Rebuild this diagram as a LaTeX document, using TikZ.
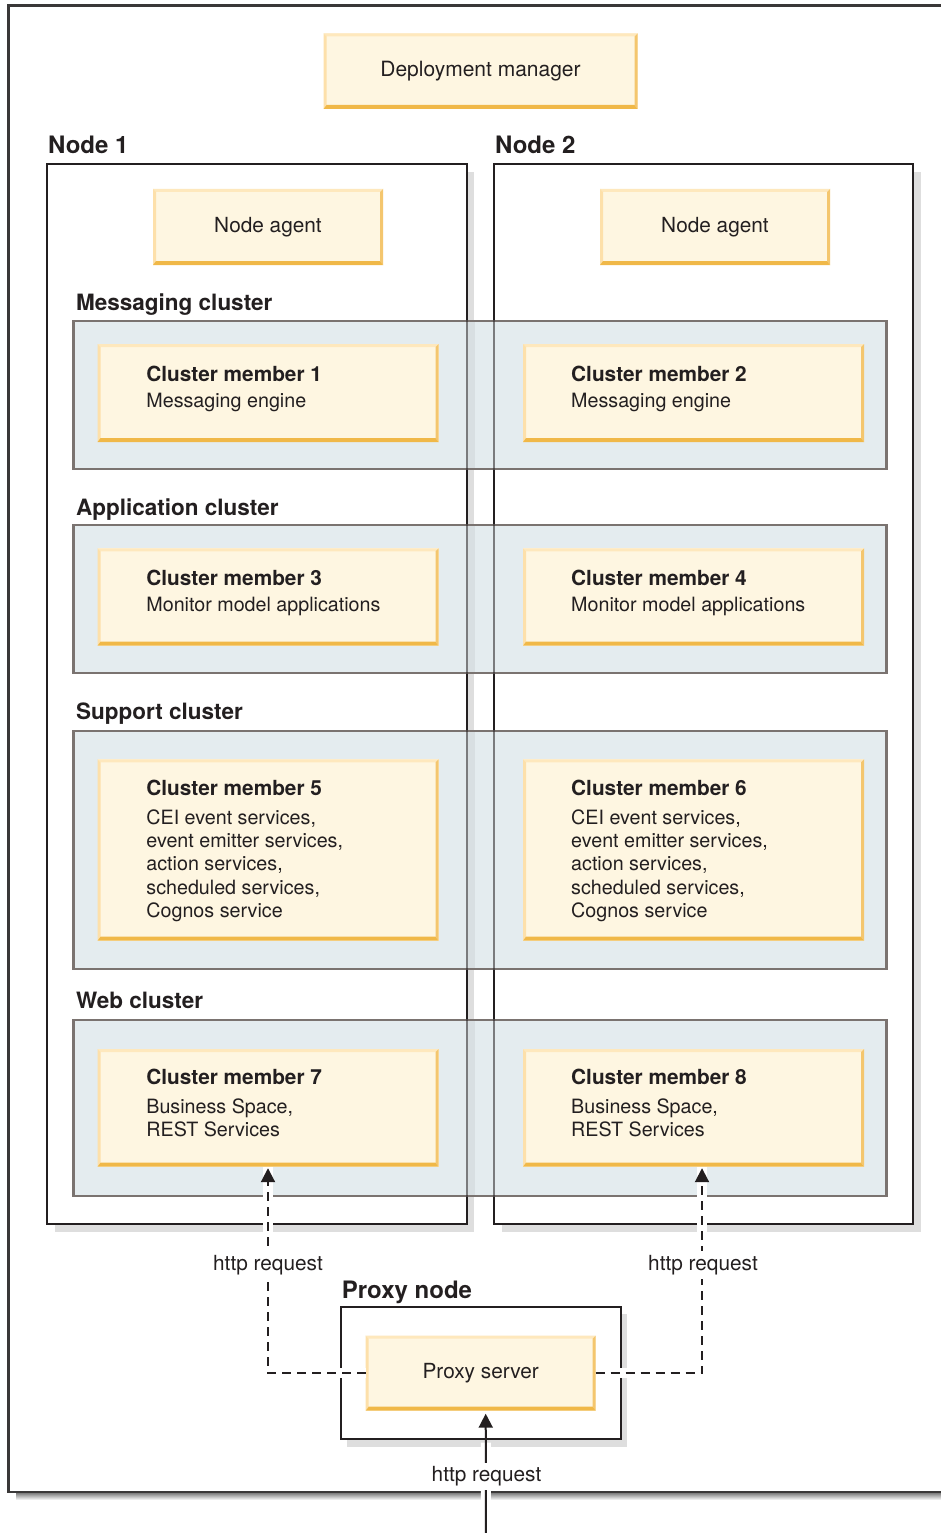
\documentclass[tikz,border=0pt]{standalone}
\usepackage{fontspec}
\setmainfont{TeX Gyre Heros}
\usetikzlibrary{arrows.meta}
\definecolor{ink}{HTML}{231F20}
\definecolor{memfill}{HTML}{FEF6E1}
\definecolor{bvtop}{HTML}{FEE8BD}
\definecolor{bvleft}{HTML}{FDE0AA}
\definecolor{bvright}{HTML}{F4C66E}
\definecolor{bvbot}{HTML}{F0B848}
\definecolor{clfill}{HTML}{E4ECEF}
\definecolor{cldraw}{HTML}{7A7370}
\definecolor{shade}{HTML}{DEDEDE}
\definecolor{framecol}{HTML}{3A3838}
\newcommand\fReg{\fontsize{20.8}{24}\selectfont}
\newcommand\fMem{\fontsize{19.7}{23.3}\selectfont}
\newcommand\fTtl[1]{{\fontsize{20.8}{23.3}\selectfont\bfseries #1}}
\newcommand\fBig{\fontsize{21}{25}\selectfont}
\newcommand\fCl{\fontsize{22.5}{26}\selectfont\bfseries}
\newcommand\fNd{\fontsize{24}{28}\selectfont\bfseries}
\tikzset{
 bevelbox/.style={fill=memfill, draw=none, inner sep=0, outer sep=0, text=ink,
   path picture={
   \path (path picture bounding box.north west) coordinate (pnw)
         (path picture bounding box.north east) coordinate (pne)
         (path picture bounding box.south west) coordinate (psw)
         (path picture bounding box.south east) coordinate (pse);
   \fill[bvtop] (pnw) -- (pne) -- ([shift={(-3,3)}]pne) -- ([shift={(3,3)}]pnw) -- cycle;
   \fill[bvleft] (pnw) -- ([shift={(3,3)}]pnw) -- ([shift={(3,-4)}]psw) -- (psw) -- cycle;
   \fill[bvright] (pne) -- (pse) -- ([shift={(-3,-4)}]pse) -- ([shift={(-3,3)}]pne) -- cycle;
   \fill[bvbot] (psw) -- (pse) -- ([shift={(-3,-4)}]pse) -- ([shift={(3,-4)}]psw) -- cycle;
 }},
 member/.style={bevelbox, minimum width=341pt, minimum height=#1},
 agentbox/.style={bevelbox, font=\fReg, minimum width=230pt, minimum height=76pt},
 nodebox/.style={draw=ink, line width=2pt, fill=white, inner sep=0, outer sep=0,
   minimum width=419.5pt, minimum height=1059pt,
   preaction={fill=shade, transform canvas={shift={(7.5,8)}}}},
 clusterbox/.style={draw=cldraw, fill=clfill, line width=2.5pt, inner sep=0, outer sep=0,
   minimum width=813pt, minimum height=#1},
 memtext/.style={anchor=base west, align=left, inner sep=0, font=\fMem, text=ink},
 cllabel/.style={anchor=base west, inner sep=0, font=\fCl, text=ink},
 ndlabel/.style={anchor=base west, inner sep=0, font=\fNd, text=ink},
 reqlabel/.style={anchor=base, fill=white, inner xsep=3pt, inner ysep=4pt, font=\fReg, text=ink},
 halo/.style={draw=white, line width=10pt},
 conn/.style={draw=ink, line width=2pt, -{Triangle[width=14pt,length=14pt]}},
 dconn/.style={conn, dash pattern=on 9pt off 6pt},
}
\begin{document}
\begin{tikzpicture}[x=1pt,y=-1pt]
\useasboundingbox (0,0) rectangle (941,1533);
% outer frame
\fill[shade] (16,1493) rectangle (950,1500);
\draw[framecol, line width=2.5pt] (950,5.5) -- (8.5,5.5) -- (8.5,1491.8) -- (950,1491.8);
% deployment manager
\node[bevelbox, font=\fBig, minimum width=314pt, minimum height=75.5pt] (dm) at (480.5,71.25) {Deployment manager};
% node boxes
\node[ndlabel] (n1lbl) at (48,154) {Node 1};
\node[ndlabel] (n2lbl) at (495,154) {Node 2};
\node[nodebox] (node1) at (256.75,694) {};
\node[nodebox, minimum width=419pt] (node2) at (703.8,694) {};
\node[agentbox] (na1) at (268,227) {Node agent};
\node[agentbox] (na2) at (715,227) {Node agent};
% clusters
\node[cllabel] (l1) at (76,310) {Messaging cluster};
\node[cllabel] (l2) at (76,515) {Application cluster};
\node[cllabel] (l3) at (76,719) {Support cluster};
\node[cllabel] (l4) at (76,1008) {Web cluster};
\node[clusterbox=148pt] (msgc) at (480,395) {};
\node[clusterbox=148pt] (appc) at (480,599) {};
\node[clusterbox=238pt] (supc) at (480,850) {};
\node[clusterbox=176pt] (webc) at (480,1108) {};
% shadow stripe and node borders seen through the clusters
\foreach \ya/\yb in {322.25/467.75, 526.25/671.75, 732.25/967.75, 1021.25/1194.75}
  \fill[black, opacity=.05] (467.5,\ya) rectangle (474.5,\yb);
\draw[ink, line width=2pt, opacity=.55] (node1.north west) rectangle (node1.south east);
\draw[ink, line width=2pt, opacity=.55] (node2.north west) rectangle (node2.south east);
% cluster members
\node[member=98pt] (m1) at (268,393) {};
\node[member=98pt] (m2) at (693.5,393) {};
\node[member=97.4pt] (m3) at (268,597) {};
\node[member=97.4pt] (m4) at (693.5,597) {};
\node[member=181.4pt] (m5) at (268,850) {};
\node[member=181.4pt] (m6) at (693.5,850) {};
\node[member=117.7pt] (m7) at (268,1107.85) {};
\node[member=117.7pt] (m8) at (693.5,1107.85) {};
\node[memtext] (t1) at (146.2,407.3) {\fTtl{Cluster member 1}\\[3pt]Messaging engine};
\node[memtext] (t2) at (571,407.3) {\fTtl{Cluster member 2}\\[3pt]Messaging engine};
\node[memtext] (t3) at (146.2,611.3) {\fTtl{Cluster member 3}\\[3pt]Monitor model applications};
\node[memtext] (t4) at (571,611.3) {\fTtl{Cluster member 4}\\[3pt]Monitor model applications};
\node[memtext] (t5) at (146.2,917.5) {\fTtl{Cluster member 5}\\[6pt]CEI event services,\\event emitter services,\\action services,\\scheduled services,\\Cognos service};
\node[memtext] (t6) at (571,917.5) {\fTtl{Cluster member 6}\\[6pt]CEI event services,\\event emitter services,\\action services,\\scheduled services,\\Cognos service};
\node[memtext] (t7) at (146.2,1136.6) {\fTtl{Cluster member 7}\\[6pt]Business Space,\\REST Services};
\node[memtext] (t8) at (571,1136.6) {\fTtl{Cluster member 8}\\[6pt]Business Space,\\REST Services};
% proxy node
\node[ndlabel] (pnlbl) at (341.7,1298) {Proxy node};
\node[draw=ink, line width=2pt, fill=white, inner sep=0, outer sep=0,
   minimum width=280pt, minimum height=132.6pt,
   preaction={fill=shade, transform canvas={shift={(6,7.5)}}}] (pnode) at (480.7,1373) {};
\node[agentbox, minimum height=75pt] (proxy) at (480.7,1373.2) {Proxy server};
% connectors
\coordinate (inlet) at (486,1545);
\draw[halo, shorten >=32pt] (inlet) -- ([xshift=5pt]proxy.south);
\draw[conn, shorten >=3pt] (inlet) -- ([xshift=5pt]proxy.south);
\draw[halo] (proxy.west) -| (m7.south);
\draw[dconn, shorten >=1.5pt] (proxy.west) -| (m7.south);
\draw[halo] (proxy.east) -| ([xshift=8.5pt]m8.south);
\draw[dconn, shorten >=1.5pt] (proxy.east) -| ([xshift=8.5pt]m8.south);
\node[reqlabel] (r1) at (268,1270) {http request};
\node[reqlabel] (r2) at (703,1270) {http request};
\node[reqlabel] (r3) at (486.5,1481.7) {http request};
\end{tikzpicture}
\end{document}
